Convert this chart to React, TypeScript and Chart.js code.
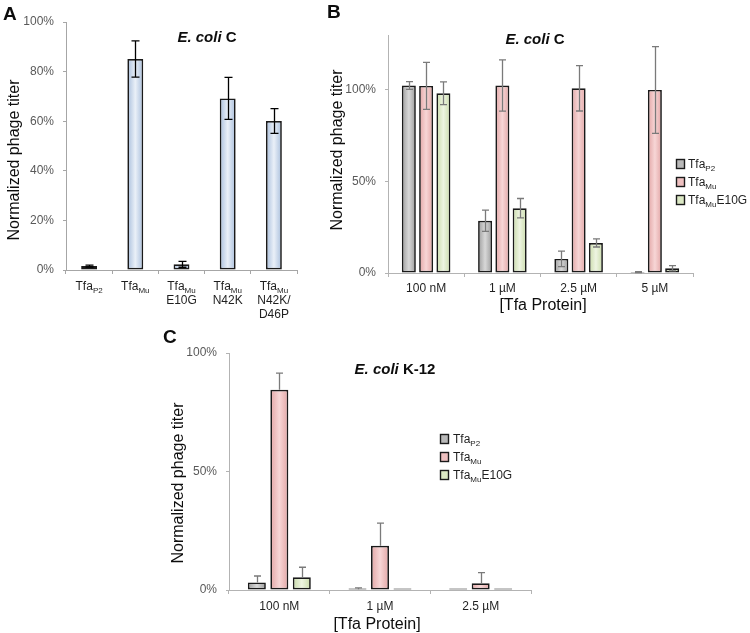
import React, { useEffect, useRef } from "react";
import { Chart, registerables } from "chart.js";
Chart.register(...registerables);

const FONT = '"Liberation Sans", Arial, sans-serif';

// ---------- Panel A data ----------
const catsA = ["Tfa_{P2}", "Tfa_{Mu}", "Tfa_{Mu}\nE10G", "Tfa_{Mu}\nN42K", "Tfa_{Mu}\nN42K/\nD46P"];
const valsA = [1.6, 85.1, 2.3, 69.2, 60.1];
const errA = [0.4, 7.3, 1.2, 8.5, 5.0];

// ---------- Panel B data ----------
const catsB = ["100 nM", "1 µM", "2.5 µM", "5 µM"];
const seriesNames = ["Tfa_{P2}", "Tfa_{Mu}", "Tfa_{Mu}E10G"];
const bP2 = [102.4, 28.5, 7.7, 0.5];
const bMu = [102.2, 102.4, 100.9, 100.0];
const bE10G = [98.2, 35.4, 16.4, 2.6];
const bP2Err = [2.1, 5.8, 4.2, 0.3];
const bMuErr = [12.8, 14.0, 12.4, 23.7];
const bE10GErr = [6.2, 5.3, 2.2, 1.4];

// ---------- Panel C data ----------
const catsC = ["100 nM", "1 µM", "2.5 µM"];
const cP2 = [3.2, 0.3, 0];
const cMu = [84.5, 18.7, 2.8];
const cE10G = [5.4, 0, 0];
const cP2Err = [2.7, 0.6, 0];
const cMuErr = [7.0, 9.5, 4.5];
const cE10GErr = [4.2, 0, 0];

// ---------- colours ----------
const BLUE = { edge: "#a8bedc", center: "#eaf0f8", solid: "#c5d5ea" };
const GRAY = { edge: "#9c9c9c", center: "#d8d8d8", solid: "#b8b8b8" };
const PINK = { edge: "#e2a5a5", center: "#f7d6d6", solid: "#eec0c0" };
const GREEN = { edge: "#c9dba9", center: "#eef5e2", solid: "#dbe8c4" };

type Seg = { t: string; sub: boolean; it: boolean };
function parseRich(s: string): Seg[] {
  const segs: Seg[] = [];
  let it = false;
  let buf = "";
  for (let i = 0; i < s.length; i++) {
    const c = s[i];
    if (c === "*") {
      if (buf) segs.push({ t: buf, sub: false, it });
      buf = "";
      it = !it;
      continue;
    }
    if (c === "_" && s[i + 1] === "{") {
      if (buf) segs.push({ t: buf, sub: false, it });
      buf = "";
      const j = s.indexOf("}", i);
      segs.push({ t: s.slice(i + 2, j), sub: true, it });
      i = j;
      continue;
    }
    buf += c;
  }
  if (buf) segs.push({ t: buf, sub: false, it });
  return segs;
}

type TextOpt = {
  size: number;
  bold?: boolean;
  align?: "left" | "center" | "right";
  color?: string;
  rotate?: boolean;
  baseline?: CanvasTextBaseline;
};
function drawRich(ctx: CanvasRenderingContext2D, s: string, x: number, y: number, o: TextOpt) {
  const segs = parseRich(s);
  const fontOf = (seg: Seg) =>
    `${seg.it ? "italic " : ""}${o.bold ? "bold " : ""}${seg.sub ? Math.round(o.size * 0.7) : o.size}px ${FONT}`;
  let w = 0;
  const ws = segs.map((seg) => {
    ctx.font = fontOf(seg);
    const m = ctx.measureText(seg.t).width;
    w += m;
    return m;
  });
  ctx.save();
  ctx.translate(x, y);
  if (o.rotate) ctx.rotate(-Math.PI / 2);
  let cx = o.align === "left" ? 0 : o.align === "right" ? -w : -w / 2;
  ctx.fillStyle = o.color || "#0d0d0d";
  ctx.textBaseline = o.baseline || "alphabetic";
  ctx.textAlign = "left";
  segs.forEach((seg, k) => {
    ctx.font = fontOf(seg);
    ctx.fillText(seg.t, cx, seg.sub ? o.size * 0.28 : 0);
    cx += ws[k];
  });
  ctx.restore();
}

type TextItem = { text: string; x: number; y: number } & TextOpt;
type Series = { values: number[]; errors: number[]; col: { edge: string; center: string; solid: string } };
type PanelCfg = {
  left: number;
  top: number;
  width: number;
  height: number;
  yW: number;
  xH: number;
  padTop: number;
  padRight: number;
  max: number;
  step: number;
  cats: string[];
  series: Series[];
  catPct: number;
  barPct: number;
  minBar?: number;
  plusOnly: boolean;
  errColor: string;
  capHalf: number;
  axisColor: string;
  tickBaseline: number;
  tickLine: number;
  texts: TextItem[];
  legend?: { x: number; ys: number[]; textX: number };
};

function Panel({ cfg }: { cfg: PanelCfg }) {
  const ref = useRef<HTMLCanvasElement>(null);
  useEffect(() => {
    const canvas = ref.current!;
    const ox = cfg.left;
    const oy = cfg.top;

    const gradPlugin = {
      id: "grad",
      beforeDatasetsDraw(chart: any) {
        const ctx = chart.ctx;
        cfg.series.forEach((s, d) => {
          const meta = chart.getDatasetMeta(d);
          meta.data.forEach((el: any) => {
            const x = el.x;
            const w = el.width;
            const g = ctx.createLinearGradient(x - w / 2, 0, x + w / 2, 0);
            g.addColorStop(0, s.col.edge);
            g.addColorStop(0.5, s.col.center);
            g.addColorStop(1, s.col.edge);
            el.options.backgroundColor = g;
          });
        });
      },
    };

    const errPlugin = {
      id: "err",
      afterDatasetsDraw(chart: any) {
        const ctx = chart.ctx;
        const ys = chart.scales.y;
        ctx.save();
        ctx.strokeStyle = cfg.errColor;
        ctx.lineWidth = 1.3;
        cfg.series.forEach((s, d) => {
          const meta = chart.getDatasetMeta(d);
          meta.data.forEach((el: any, i: number) => {
            const e = s.errors[i];
            if (!e) return;
            const v = s.values[i];
            const x = Math.round(el.x) + 0.5;
            const yt = ys.getPixelForValue(v + e);
            const yb = ys.getPixelForValue(cfg.plusOnly ? v : Math.max(v - e, 0));
            ctx.beginPath();
            ctx.moveTo(x, yt);
            ctx.lineTo(x, yb);
            ctx.moveTo(x - cfg.capHalf, yt);
            ctx.lineTo(x + cfg.capHalf, yt);
            if (!cfg.plusOnly) {
              ctx.moveTo(x - cfg.capHalf, yb);
              ctx.lineTo(x + cfg.capHalf, yb);
            }
            ctx.stroke();
          });
        });
        ctx.restore();
      },
    };

    const textPlugin = {
      id: "texts",
      afterDraw(chart: any) {
        const ctx = chart.ctx;
        const xs = chart.scales.x;
        cfg.cats.forEach((lab, i) => {
          const x = xs.getPixelForValue(i);
          lab.split("\n").forEach((line, k) => {
            drawRich(ctx, line, x, cfg.tickBaseline - oy + k * cfg.tickLine, {
              size: 12,
              align: "center",
              color: "#1f1f1f",
            });
          });
        });
        cfg.texts.forEach((t) => {
          drawRich(ctx, t.text, t.x - ox, t.y - oy, t);
        });
        if (cfg.legend) {
          const lg = cfg.legend;
          cfg.series.forEach((s, d) => {
            const by = lg.ys[d] - oy;
            ctx.save();
            ctx.fillStyle = s.col.solid;
            ctx.fillRect(lg.x - ox, by - 9, 8, 9);
            ctx.strokeStyle = "#1a1a1a";
            ctx.lineWidth = 1.4;
            ctx.strokeRect(lg.x - ox + 0.5, by - 9 + 0.5, 8, 9);
            ctx.restore();
            drawRich(ctx, seriesNames[d], lg.textX - ox, by, { size: 12, align: "left", color: "#1f1f1f" });
          });
        }
      },
    };

    const chart = new Chart(canvas, {
      type: "bar",
      data: {
        labels: cfg.cats,
        datasets: cfg.series.map((s) => ({
          data: s.values,
          backgroundColor: () => s.col.solid,
          borderColor: "#1a1a1a",
          borderWidth: 1.7,
          borderSkipped: false,
          categoryPercentage: cfg.catPct,
          barPercentage: cfg.barPct,
          minBarLength: cfg.minBar || 0,
        })),
      },
      options: {
        responsive: false,
        animation: false,
        devicePixelRatio: 1,
        layout: { padding: { left: 0, top: cfg.padTop, right: cfg.padRight, bottom: 0 } },
        plugins: { legend: { display: false }, tooltip: { enabled: false }, title: { display: false } },
        scales: {
          x: {
            type: "category",
            afterFit: (s: any) => {
              s.height = cfg.xH;
            },
            grid: {
              display: true,
              drawOnChartArea: false,
              drawTicks: true,
              tickLength: 4,
              color: cfg.axisColor,
              offset: true,
            },
            border: { display: true, color: cfg.axisColor, width: 1 },
            ticks: { display: false },
          },
          y: {
            min: 0,
            max: cfg.max,
            afterFit: (s: any) => {
              s.width = cfg.yW;
            },
            grid: { drawOnChartArea: false, drawTicks: true, tickLength: 3, color: cfg.axisColor },
            border: { display: true, color: cfg.axisColor, width: 1 },
            ticks: {
              stepSize: cfg.step,
              padding: 9,
              color: "#595959",
              font: { family: FONT, size: 12 },
              callback: (v: any) => (Number(v) % cfg.step === 0 ? `${v}%` : null),
            },
          },
        },
      } as any,
      plugins: [gradPlugin, errPlugin, textPlugin],
    });
    return () => chart.destroy();
  }, []);
  return (
    <canvas
      ref={ref}
      width={cfg.width}
      height={cfg.height}
      style={{ position: "absolute", left: cfg.left, top: cfg.top, width: cfg.width, height: cfg.height }}
    />
  );
}

const panelA: PanelCfg = {
  left: 0,
  top: 0,
  width: 315,
  height: 320,
  yW: 66,
  xH: 50,
  padTop: 22,
  padRight: 18,
  max: 100,
  step: 20,
  cats: catsA,
  series: [{ values: valsA, errors: errA, col: BLUE }],
  catPct: 0.8,
  barPct: 0.43,
  plusOnly: false,
  errColor: "#000000",
  capHalf: 4,
  axisColor: "#a6a6a6",
  tickBaseline: 290,
  tickLine: 14,
  texts: [
    { text: "A", x: 3, y: 20, size: 19, bold: true, align: "left" },
    { text: "*E. coli* C", x: 207, y: 42, size: 15, bold: true, align: "center" },
    { text: "Normalized phage titer", x: 15, y: 160, size: 16, rotate: true, baseline: "middle", align: "center" },
  ],
};

const panelB: PanelCfg = {
  left: 320,
  top: 0,
  width: 430,
  height: 320,
  yW: 68,
  xH: 47,
  padTop: 35,
  padRight: 57,
  max: 130,
  step: 50,
  cats: catsB,
  series: [
    { values: bP2, errors: bP2Err, col: GRAY },
    { values: bMu, errors: bMuErr, col: PINK },
    { values: bE10G, errors: bE10GErr, col: GREEN },
  ],
  catPct: 0.68,
  barPct: 0.81,
  plusOnly: false,
  errColor: "#7a7a7a",
  capHalf: 3.5,
  axisColor: "#b3b3b3",
  tickBaseline: 292,
  tickLine: 14,
  texts: [
    { text: "B", x: 327, y: 18, size: 19, bold: true, align: "left" },
    { text: "*E. coli* C", x: 535, y: 44, size: 15, bold: true, align: "center" },
    { text: "Normalized phage titer", x: 338, y: 150, size: 16, rotate: true, baseline: "middle", align: "center" },
    { text: "[Tfa Protein]", x: 543, y: 310, size: 16, align: "center" },
  ],
  legend: { x: 676, ys: [168, 186, 204], textX: 688 },
};

const panelC: PanelCfg = {
  left: 150,
  top: 320,
  width: 450,
  height: 313,
  yW: 79,
  xH: 43,
  padTop: 33,
  padRight: 69,
  max: 100,
  step: 50,
  cats: catsC,
  series: [
    { values: cP2, errors: cP2Err, col: GRAY },
    { values: cMu, errors: cMuErr, col: PINK },
    { values: cE10G, errors: cE10GErr, col: GREEN },
  ],
  catPct: 0.67,
  barPct: 0.8,
  minBar: 1.5,
  plusOnly: true,
  errColor: "#7a7a7a",
  capHalf: 3.5,
  axisColor: "#b3b3b3",
  tickBaseline: 610,
  tickLine: 14,
  texts: [
    { text: "C", x: 163, y: 343, size: 19, bold: true, align: "left" },
    { text: "*E. coli* K-12", x: 395, y: 374, size: 15, bold: true, align: "center" },
    { text: "Normalized phage titer", x: 179, y: 483, size: 16, rotate: true, baseline: "middle", align: "center" },
    { text: "[Tfa Protein]", x: 377, y: 629, size: 16, align: "center" },
  ],
  legend: { x: 440, ys: [443, 461, 479], textX: 453 },
};

export default function App() {
  return (
    <div style={{ position: "absolute", left: 0, top: 0, width: 750, height: 633, background: "#fff" }}>
      <Panel cfg={panelA} />
      <Panel cfg={panelB} />
      <Panel cfg={panelC} />
    </div>
  );
}
